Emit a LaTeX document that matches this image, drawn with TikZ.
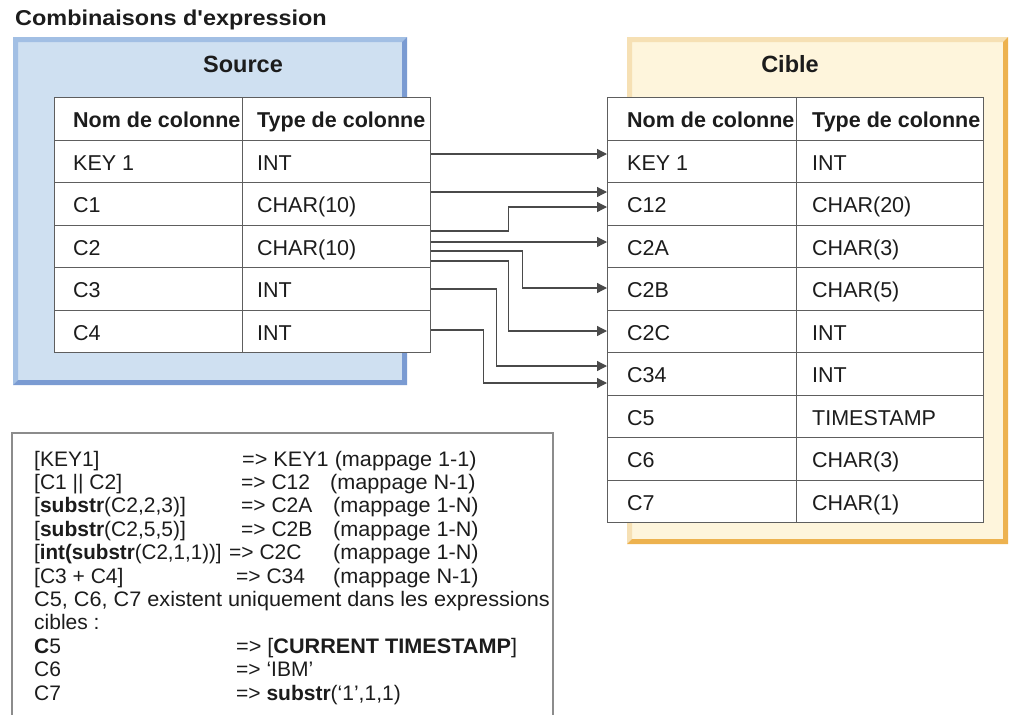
\documentclass[tikz,border=0pt]{standalone}
\usepackage{fontspec}
\newfontfamily\lsans{Liberation Sans}
\usetikzlibrary{arrows.meta}

\definecolor{srcfill}{HTML}{CFE0F1}
\definecolor{srclight}{HTML}{A2BFE4}
\definecolor{srcdark}{HTML}{7A9BD2}
\definecolor{tgtfill}{HTML}{FEF5DC}
\definecolor{tgtlight}{HTML}{F6E0B4}
\definecolor{tgtdark}{HTML}{EDB24F}
\definecolor{gridgray}{HTML}{5E5E5E}
\definecolor{linkgray}{HTML}{4A4A4A}
\definecolor{boxgray}{HTML}{8C8C8C}
\definecolor{ink}{HTML}{1C1C1C}

\begin{document}
\begin{tikzpicture}[x=1pt,y=-1pt,
  every node/.style={inner sep=0pt, text=ink},
  big/.style={font=\lsans\fontsize{21.5}{24}\selectfont},
  frametitle/.style={font=\lsans\bfseries\fontsize{23.5}{26}\selectfont, anchor=base},
  small/.style={font=\lsans\fontsize{21}{23}\selectfont, anchor=base west},
  cell/.style={draw=gridgray, line width=1.3pt, fill=white,
               minimum height=42.5pt, anchor=north west},
  celltext/.style={big, anchor=base west},
  link/.style={draw=linkgray, line width=1.3pt,
               -{Triangle[length=10pt,width=10pt]}},
  boxline/.style={draw=boxgray, line width=1.4pt}]

\useasboundingbox (0,0) rectangle (1010,715);

% heading
\node[big, anchor=base west] (title) at (15,25)
  {\scalebox{1.09}[1]{\bfseries Combinaisons d'expression}};

% ---------- source frame ----------
\fill[srcfill] (13,37) rectangle (407,385);
\fill[srclight] (13,37) -- (407,37) -- (402,42) -- (18,42) -- (18,380) -- (13,385) -- cycle;
\fill[srcdark] (407,37) -- (407,385) -- (13,385) -- (18,380) -- (402,380) -- (402,42) -- cycle;
\node[frametitle] (srctitle) at (243,72.5) {Source};

% ---------- target frame ----------
\fill[tgtfill] (627,37) rectangle (1008,544);
\fill[tgtlight] (627,37) -- (1008,37) -- (1003,42) -- (632,42) -- (632,539) -- (627,544) -- cycle;
\fill[tgtdark] (1008,37) -- (1008,544) -- (627,544) -- (632,539) -- (1003,539) -- (1003,42) -- cycle;
\node[frametitle] (tgttitle) at (790,72.5) {Cible};

% ---------- source table ----------
\node[cell, minimum width=188pt] (sa0) at (54,97) {};
\node[cell, minimum width=188pt] (sb0) at (242,97) {};
\node[celltext] (sat0) at (73,127.5) {\bfseries Nom de colonne};
\node[celltext] (sbt0) at (257,127.5) {\bfseries Type de colonne};
\foreach \na/\ty [count=\i] in {KEY 1/INT, C1/CHAR(10), C2/CHAR(10), C3/INT, C4/INT}{
  \node[cell, minimum width=188pt] (sa\i) at (54,{97+42.5*\i}) {};
  \node[cell, minimum width=188pt] (sb\i) at (242,{97+42.5*\i}) {};
  \node[celltext] (sat\i) at (73,{127.5+42.5*\i}) {\na};
  \node[celltext] (sbt\i) at (257,{127.5+42.5*\i}) {\ty};
}

% ---------- target table ----------
\node[cell, minimum width=189pt] (ta0) at (607,97) {};
\node[cell, minimum width=187pt] (tb0) at (796,97) {};
\node[celltext] (tat0) at (627,127.5) {\bfseries Nom de colonne};
\node[celltext] (tbt0) at (812,127.5) {\bfseries Type de colonne};
\foreach \na/\ty [count=\i] in {KEY 1/INT, C12/CHAR(20), C2A/CHAR(3), C2B/CHAR(5),
    C2C/INT, C34/INT, C5/TIMESTAMP, C6/CHAR(3), C7/CHAR(1)}{
  \node[cell, minimum width=189pt] (ta\i) at (607,{97+42.5*\i}) {};
  \node[cell, minimum width=187pt] (tb\i) at (796,{97+42.5*\i}) {};
  \node[celltext] (tat\i) at (627,{127.5+42.5*\i}) {\na};
  \node[celltext] (tbt\i) at (812,{127.5+42.5*\i}) {\ty};
}

% ---------- mapping connectors ----------
\coordinate (o1) at (sb1.east |- 0,154);
\coordinate (o2) at (sb2.east |- 0,192);
\coordinate (o3) at (sb3.east |- 0,231);
\coordinate (o4) at (sb3.east |- 0,242);
\coordinate (o5) at (sb3.east |- 0,251);
\coordinate (o6) at (sb3.east |- 0,261);
\coordinate (o7) at (sb4.east |- 0,289);
\coordinate (o8) at (sb5.east |- 0,330);

\coordinate (i1) at (ta1.west |- 0,154);
\coordinate (i2) at (ta2.west |- 0,192);
\coordinate (i3) at (ta2.west |- 0,207);
\coordinate (i4) at (ta3.west |- 0,242);
\coordinate (i5) at (ta4.west |- 0,288);
\coordinate (i6) at (ta5.west |- 0,331);
\coordinate (i7) at (ta6.west |- 0,366);
\coordinate (i8) at (ta6.west |- 0,383);

\draw[link] (o1) -- (i1);
\draw[link] (o2) -- (i2);
\draw[link] (o3) -- ++(77,0) |- (i3);
\draw[link] (o4) -- (i4);
\draw[link] (o5) -- ++(91,0) |- (i5);
\draw[link] (o6) -- ++(77,0) |- (i6);
\draw[link] (o7) -- ++(65,0) |- (i7);
\draw[link] (o8) -- ++(52,0) |- (i8);

% ---------- expression list ----------
\draw[boxline] (12,720) -- (12,433) -- (553,433) -- (553,720);

\node[small] (e1) at (34,466) {[KEY1]};
\node[small] (r1) at (242,466) {\scalebox{1.03}[1]{=> KEY1 (mappage 1-1)}};

\node[small] (e2) at (34,489.4) {[C1 || C2]};
\node[small] (r2) at (241,489.4) {=> C12};
\node[small] (m2) at (330,489.4) {\scalebox{1.03}[1]{(mappage N-1)}};

\node[small] (e3) at (34,512.8) {[\textbf{substr}(C2,2,3)]};
\node[small] (r3) at (241,512.8) {=> C2A};
\node[small] (m3) at (333,512.8) {\scalebox{1.03}[1]{(mappage 1-N)}};

\node[small] (e4) at (34,536.2) {[\textbf{substr}(C2,5,5)]};
\node[small] (r4) at (241,536.2) {=> C2B};
\node[small] (m4) at (333,536.2) {\scalebox{1.03}[1]{(mappage 1-N)}};

\node[small] (e5) at (34,559.6) {\scalebox{0.98}[1]{[\textbf{int(substr}(C2,1,1))]}};
\node[small] (r5) at (229,559.6) {=> C2C};
\node[small] (m5) at (333,559.6) {\scalebox{1.03}[1]{(mappage 1-N)}};

\node[small] (e6) at (34,583) {[C3 + C4]};
\node[small] (r6) at (236,583) {=> C34};
\node[small] (m6) at (333,583) {\scalebox{1.03}[1]{(mappage N-1)}};

\node[small] (e7) at (34,606.4) {\scalebox{1.032}[1]{C5, C6, C7 existent uniquement dans les expressions}};
\node[small] (e8) at (34,629.8) {cibles :};

\node[small] (e9) at (34,653.2) {\textbf{C}5};
\node[small] (r9) at (236,653.2) {\scalebox{1.03}[1]{=> [\textbf{CURRENT TIMESTAMP}]}};

\node[small] (e10) at (34,676.6) {C6};
\node[small] (r10) at (236,676.6) {=> ‘IBM’};

\node[small] (e11) at (34,700) {C7};
\node[small] (r11) at (236,700) {=> \textbf{substr}(‘1’,1,1)};

\end{tikzpicture}
\end{document}
